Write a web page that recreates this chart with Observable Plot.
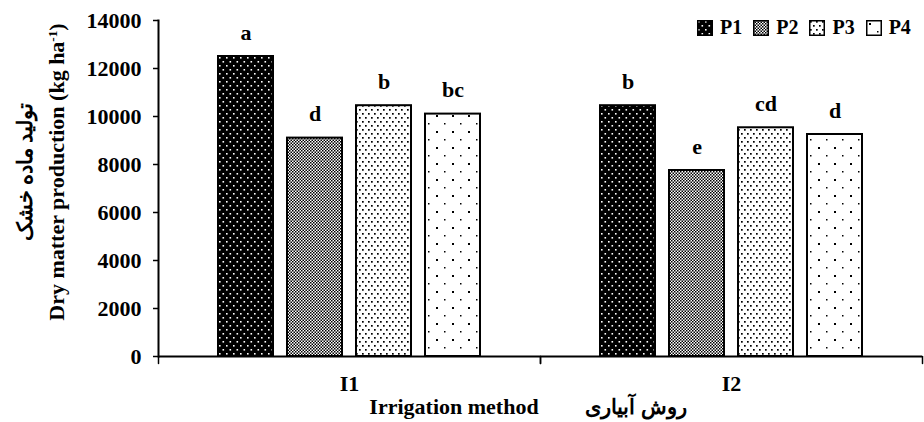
<!DOCTYPE html>
<html><head><meta charset="utf-8">
<script src="https://cdn.jsdelivr.net/npm/d3@7"></script>
<script src="https://cdn.jsdelivr.net/npm/@observablehq/plot@0.6"></script>
<style>
body{margin:0;background:#fff;}
#wrap{position:relative;width:924px;height:422px;font-family:"Liberation Serif","Times New Roman","DejaVu Serif",serif;font-weight:bold;color:#000;}
.t{position:absolute;white-space:nowrap;font-weight:bold;line-height:1;}
.legend{position:absolute;left:697px;top:16px;display:flex;align-items:center;font-size:20px;font-weight:bold;}
.legend .item{display:flex;align-items:center;margin-right:11px;}
.legend .item:last-child{margin-right:0;}
.legend svg{display:block;margin-right:7px;}
</style></head><body><div id="wrap"></div>
<script>
const methods = ["I1", "I2"];
const treatments = ["P1", "P2", "P3", "P4"];
const valuesI1 = [12500, 9100, 10450, 10100];
const valuesI2 = [10450, 7750, 9530, 9250];
const lettersI1 = ["a", "d", "b", "bc"];
const lettersI2 = ["b", "e", "cd", "d"];
const yTicks = [0, 2000, 4000, 6000, 8000, 10000, 12000, 14000];
const xTitle = "Irrigation method";
const xTitleFa = "روش آبیاری";
const yTitle = "Dry matter production (kg ha";
const yTitleFa = "تولید ماده خشک";

const rows = [];
methods.forEach((m, i) => {
  const vals = i ? valuesI2 : valuesI1;
  const lets = i ? lettersI2 : lettersI1;
  treatments.forEach((p, j) => rows.push({method: m, p, value: vals[j], letter: lets[j]}));
});

const FONT = '"Liberation Serif","Times New Roman","DejaVu Serif",serif';
const tickShape = {draw(ctx, l) { ctx.moveTo(0, 0); ctx.lineTo(0, -l); }};

const chart = Plot.plot({
  width: 924, height: 422,
  marginLeft: 157, marginRight: 2, marginTop: 20, marginBottom: 66,
  style: {fontFamily: FONT, fontWeight: "bold", fontSize: "22px", background: "white", color: "black"},
  fx: {domain: methods, padding: 0, label: null, axis: null},
  x: {domain: treatments, paddingInner: 0.2, paddingOuter: 0.836, axis: null},
  y: {domain: [0, 14000], axis: null},
  color: {domain: treatments, range: treatments.map(p => `url(#pat-${p})`)},
  marks: [
    Plot.barY(rows, {fx: "method", x: "p", y: "value", fill: "p", stroke: "black", strokeWidth: 2}),
    Plot.text(rows, {fx: "method", x: "p", y: "value", text: "letter", dy: -17, lineAnchor: "bottom", fontSize: 22, fontWeight: "bold", fill: "black"}),
    Plot.ruleY([0], {stroke: "black", strokeWidth: 2}),
    Plot.axisY({ticks: yTicks, tickSize: 5, tickPadding: 12, fontSize: 22, fontWeight: "bold", tickFormat: d => String(d), label: null, facetAnchor: "left", strokeWidth: 1.5}),
    Plot.axisFx({anchor: "bottom", tickSize: 0, tickPadding: 19, fontSize: 22, fontWeight: "bold", label: null}),
    Plot.vector([0], {frameAnchor: "bottom-left", length: 7, rotate: 180, anchor: "start", shape: tickShape, stroke: "black", strokeWidth: 1.5}),
    Plot.vector([0], {frameAnchor: "bottom-right", length: 7, rotate: 180, anchor: "start", shape: tickShape, stroke: "black", strokeWidth: 1.5}),
    Plot.frame({anchor: "left", facetAnchor: "left", stroke: "black", strokeWidth: 2})
  ]
});

// pattern definitions
const defs = `
<defs>
<pattern id="pat-P1" patternUnits="userSpaceOnUse" width="7" height="8">
  <rect width="7" height="8" fill="black"/>
  <rect x="1" y="1" width="1.6" height="1.6" fill="white"/>
  <rect x="4.5" y="5" width="1.6" height="1.6" fill="white"/>
</pattern>
<pattern id="pat-P2" patternUnits="userSpaceOnUse" width="3" height="3">
  <rect width="3" height="3" fill="white"/>
  <rect x="0" y="0" width="1.5" height="1.5" fill="black"/>
  <rect x="1.5" y="1.5" width="1.5" height="1.5" fill="black"/>
</pattern>
<pattern id="pat-P3" patternUnits="userSpaceOnUse" width="6" height="8">
  <rect width="6" height="8" fill="white"/>
  <rect x="1" y="1" width="1.7" height="1.7" fill="black"/>
  <rect x="4" y="5" width="1.7" height="1.7" fill="black"/>
</pattern>
<pattern id="pat-P4" patternUnits="userSpaceOnUse" width="16" height="16">
  <rect width="16" height="16" fill="white"/>
  <rect x="3" y="3" width="2" height="2" fill="black"/>
  <rect x="11" y="11" width="1.5" height="1.5" fill="black"/>
</pattern>
</defs>`;
chart.insertAdjacentHTML("afterbegin", defs);

const wrap = document.getElementById("wrap");
wrap.appendChild(chart);

// legend
const legend = document.createElement("div");
legend.className = "legend";
treatments.forEach(p => {
  const item = document.createElement("div");
  item.className = "item";
  item.innerHTML = `<svg width="16" height="16"><rect x="0.75" y="0.75" width="14.5" height="14.5" fill="url(#pat-${p})" stroke="black" stroke-width="1.5"/></svg><span>${p}</span>`;
  legend.appendChild(item);
});
wrap.appendChild(legend);

function addText(html, x, y, size, rotate, dir) {
  const d = document.createElement("div");
  d.className = "t";
  d.style.fontSize = size + "px";
  d.style.left = x + "px";
  d.style.top = y + "px";
  if (dir) d.dir = dir;
  d.style.transform = `translate(-50%,-50%)${rotate ? " rotate(-90deg)" : ""}`;
  d.innerHTML = html;
  wrap.appendChild(d);
}
addText(xTitle, 454, 407, 22, false);
addText(xTitleFa, 636, 407, 21, false, "rtl");
addText(yTitle + "<sup style='font-size:0.6em;vertical-align:0.6em'>-1</sup>)", 57, 172, 22, true);
addText(yTitleFa, 25, 172, 21, true, "rtl");
</script></body></html>
